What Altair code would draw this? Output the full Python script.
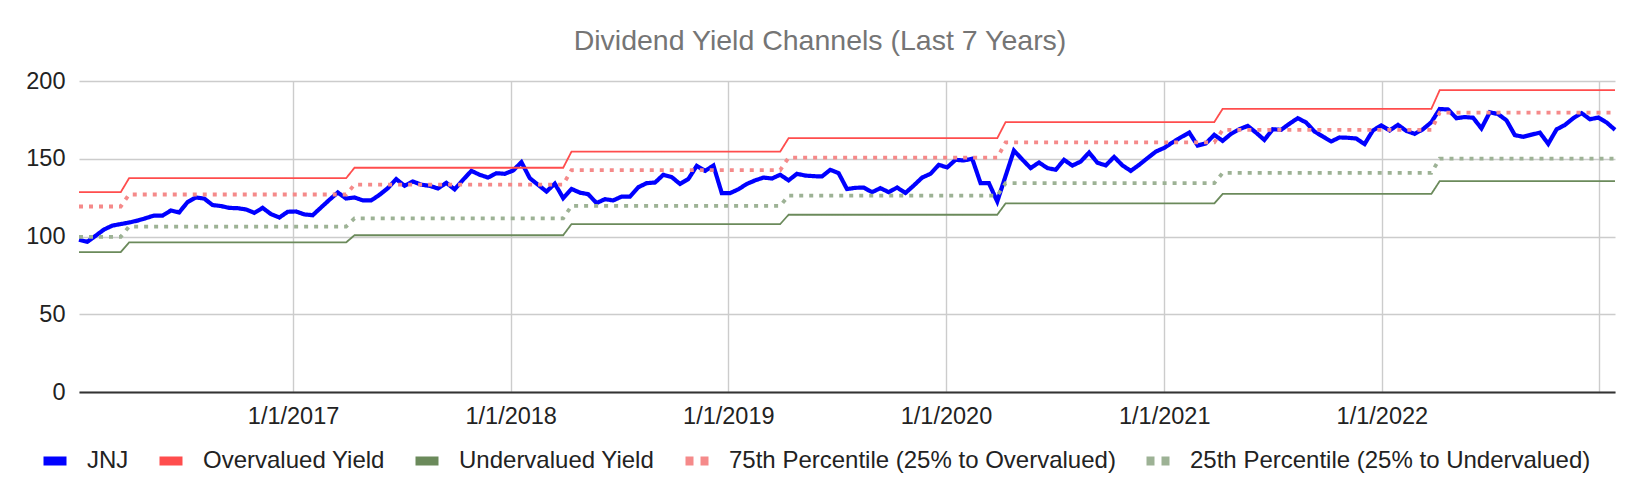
import altair as alt
import pandas as pd
import numpy as np

# ---- data -------------------------------------------------------------
start_date = "2016-01-08"
n_points = 185
dates = pd.date_range(start_date, periods=n_points, freq="14D")

jnj = [
    97.9, 96.6, 100.5, 104.5, 107.0, 108.0, 109.0, 110.2, 111.8, 113.5,
    113.4, 116.7, 115.5, 122.1, 125.1, 124.4, 120.2, 119.6, 118.4, 118.2,
    117.4, 115.2, 118.4, 114.4, 112.2, 115.9, 116.1, 114.2, 113.7, 118.7,
    123.6, 128.3, 124.4, 125.1, 123.2, 123.2, 126.8, 131.1, 136.9, 132.6,
    135.4, 133.3, 132.6, 130.9, 134.5, 130.3, 136.4, 142.2, 139.7, 137.9,
    140.7, 140.3, 142.4, 147.8, 137.5, 133.2, 128.9, 134.0, 124.7, 130.6,
    128.2, 127.2, 121.5, 124.0, 123.2, 125.7, 125.7, 131.7, 134.3, 134.7,
    139.7, 138.2, 133.8, 137.0, 145.4, 142.2, 145.6, 127.9, 127.9, 130.4,
    133.8, 136.1, 137.9, 137.3, 139.7, 136.1, 140.3, 139.2, 138.8, 138.6,
    142.9, 140.7, 130.5, 131.3, 131.5, 128.5, 131.1, 128.5, 131.5, 128.0,
    132.8, 137.9, 140.3, 146.1, 144.4, 149.3, 148.9, 150.0, 134.3, 134.3,
    122.5, 139.0, 155.3, 149.5, 144.0, 147.6, 144.0, 142.9, 149.3, 145.6,
    148.2, 154.0, 147.4, 145.7, 151.2, 145.7, 142.2, 146.1, 150.4, 154.6,
    157.0, 160.5, 163.8, 166.8, 158.5, 159.9, 165.4, 161.5, 166.0, 169.0,
    171.1, 166.8, 162.1, 169.0, 168.6, 172.5, 176.1, 173.3, 167.5, 164.3,
    161.1, 163.7, 163.5, 163.0, 159.4, 168.2, 171.4, 168.2, 171.8, 167.9,
    166.0, 169.0, 173.5, 182.0, 181.7, 176.1, 176.8, 176.4, 169.5, 179.9,
    178.7, 174.7, 165.2, 164.1, 165.5, 166.8, 159.6, 168.9, 171.7, 176.1,
    179.3, 175.4, 176.5, 173.3, 168.6,
]

# yearly channel resets (level i applies before change_dates[i])
change_dates = ["2016-04-01", "2017-04-01", "2018-04-01", "2019-04-01",
                "2020-04-01", "2021-04-01", "2022-04-01"]
overvalued_levels = [128.5, 137.5, 144.2, 154.6, 163.2, 173.6, 182.1, 194.1]
p75_levels = [119.3, 127.0, 133.4, 142.7, 150.7, 160.5, 168.6, 179.7]
p25_levels = [99.8, 106.4, 111.7, 119.7, 126.3, 134.3, 140.9, 150.1]
undervalued_levels = [90.0, 96.2, 100.8, 108.0, 114.0, 121.3, 127.4, 135.6]

series_names = [
    "JNJ",
    "Overvalued Yield",
    "Undervalued Yield",
    "75th Percentile (25% to Overvalued)",
    "25th Percentile (25% to Undervalued)",
]
series_colors = ["#0000ff", "#ff4d4d", "#6b8a5b", "#f58a8a", "#9db295"]
series_dash = [[1, 0], [1, 0], [1, 0], [4, 6], [4, 6]]
legend_dash = [[1, 0], [1, 0], [1, 0], [8, 7], [8, 7]]
series_width = [4.2, 1.8, 1.8, 3.8, 3.8]

tick_years = [2017, 2018, 2019, 2020, 2021, 2022, 2023]

# ---- build long table -------------------------------------------------
idx = np.searchsorted(pd.to_datetime(change_dates).values, dates.values, side="right")
series_values = {
    "JNJ": jnj,
    "Overvalued Yield": [overvalued_levels[i] for i in idx],
    "Undervalued Yield": [undervalued_levels[i] for i in idx],
    "75th Percentile (25% to Overvalued)": [p75_levels[i] for i in idx],
    "25th Percentile (25% to Undervalued)": [p25_levels[i] for i in idx],
}
rows = []
for name in series_names:
    for d, v in zip(dates, series_values[name]):
        rows.append({"date": d.strftime("%Y-%m-%dT00:00:00"), "series": name, "value": v})
df = pd.DataFrame(rows)

FONT = "Liberation Sans, Arial, sans-serif"

first = dates[0]
last = dates[-1]
x_domain = [alt.DateTime(year=first.year, month=first.month, date=first.day),
            alt.DateTime(year=last.year, month=last.month, date=last.day)]

x_enc = alt.X(
    "date:T",
    scale=alt.Scale(domain=x_domain),
    axis=alt.Axis(
        values=[alt.DateTime(year=y, month=1, date=1) for y in tick_years],
        format="%-m/%-d/%Y",
        labelExpr="year(datum.value) > 2022 ? '' : datum.label",
        ticks=False,
        domainColor="#333333",
        domainWidth=2,
        labelPadding=12,
        labelOverlap=False,
        labelFlush=False,
        title=None,
    ),
)
y_enc = alt.Y(
    "value:Q",
    scale=alt.Scale(domain=[0, 200], nice=False),
    axis=alt.Axis(
        values=[0, 50, 100, 150, 200],
        ticks=False,
        domain=False,
        labelPadding=14,
        title=None,
    ),
)

legend = alt.Legend(
    orient="none",
    legendX=-40,
    legendY=364,
    direction="horizontal",
    columns=5,
    title=None,
    symbolType="stroke",
    symbolSize=529,
    symbolStrokeWidth=9,
    labelFontSize=24,
    labelFont=FONT,
    labelColor="#222222",
    labelLimit=1000,
    labelOffset=16,
    columnPadding=12,
    padding=0,
)

lines = (
    alt.Chart(df)
    .mark_line()
    .encode(
        x=x_enc,
        y=y_enc,
        color=alt.Color("series:N",
                        scale=alt.Scale(domain=series_names, range=series_colors),
                        legend=None),
        strokeDash=alt.StrokeDash("series:N",
                                  scale=alt.Scale(domain=series_names, range=series_dash),
                                  legend=None),
        strokeWidth=alt.StrokeWidth("series:N",
                                    scale=alt.Scale(type="ordinal", domain=series_names,
                                                    range=series_width),
                                    legend=None),
        order=alt.Order("date:T"),
    )
)

# legend-only layer (no rows drawn; entries come from the explicit domain)
legend_layer = (
    alt.Chart(df)
    .transform_filter("false")
    .mark_line()
    .encode(
        x=x_enc,
        y=y_enc,
        color=alt.Color("series:N",
                        scale=alt.Scale(domain=series_names, range=series_colors),
                        legend=legend),
        strokeDash=alt.StrokeDash("series:N",
                                  scale=alt.Scale(domain=series_names, range=legend_dash),
                                  legend=legend),
    )
)

chart = (
    alt.layer(lines, legend_layer)
    .resolve_scale(color="independent", strokeDash="independent")
    .properties(
        width=1536,
        height=311,
        autosize=alt.AutoSizeParams(type="none"),
        padding={"left": 71, "top": 73, "right": 9, "bottom": 90},
        title=alt.TitleParams(
            text="Dividend Yield Channels (Last 7 Years)",
            fontSize=28.5,
            font=FONT,
            fontWeight="normal",
            color="#757575",
            anchor="middle",
            frame="group",
            baseline="alphabetic",
            offset=34,
            dx=-27,
            dy=43,
        ),
    )
    .configure_view(stroke=None)
    .configure_axis(
        gridColor="#cccccc",
        gridWidth=1.4,
        labelFont=FONT,
        labelFontSize=23.5,
        labelColor="#222222",
    )
)

chart.save("out.html", embed_options={"renderer": "svg", "actions": False})
